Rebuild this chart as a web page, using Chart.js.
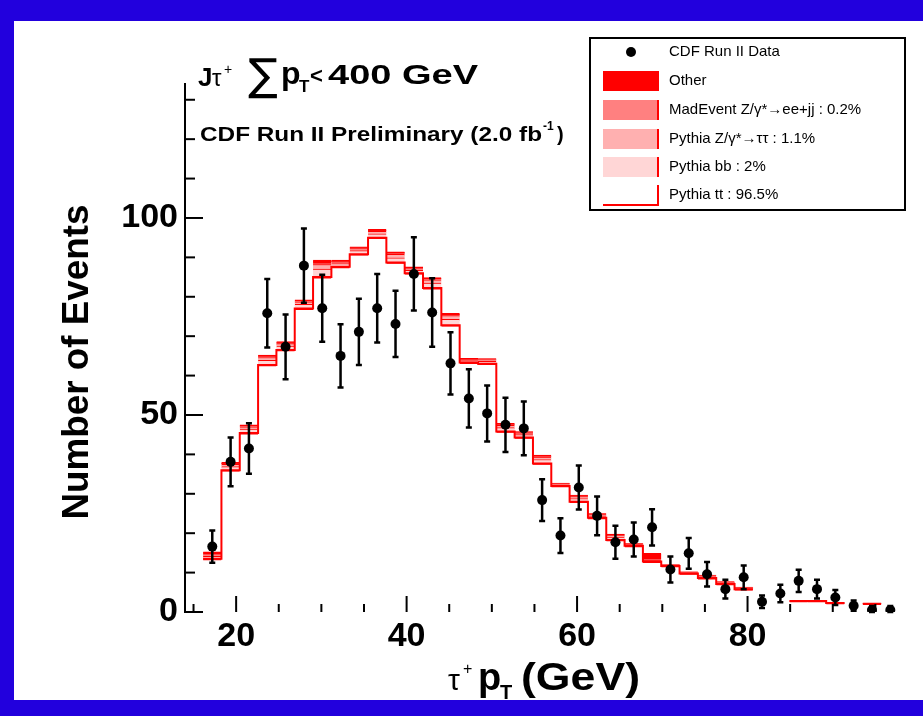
<!DOCTYPE html>
<html lang="en">
<head>
  <meta charset="UTF-8">
  <title>Tau pT - CDF Run II Preliminary</title>
  <script src="https://cdn.jsdelivr.net/npm/chart.js"></script>
  <style>
    html, body { margin: 0; padding: 0; background: #2200dd; overflow: hidden; }
    #panel { position: absolute; left: 14px; top: 21px; width: 909px; height: 679px; background: #fff; }
    #wrap { position: absolute; left: 0; top: 0; width: 923px; height: 716px; }
  </style>
</head>
<body>
  <div id="panel"></div>
  <div id="wrap"><canvas id="chart"></canvas></div>

  <script>
    // bin centres of the tau pT histogram (GeV)
    var binCenters = [17.2, 19.35, 21.5, 23.65, 25.8, 27.95, 30.1, 32.25, 34.4, 36.55,
                      38.7, 40.85, 43.0, 45.15, 47.3, 49.45, 51.6, 53.75, 55.9, 58.05,
                      60.2, 62.35, 64.5, 66.65, 68.8, 70.95, 73.1, 75.25, 77.4, 79.55,
                      81.7, 83.85, 86.0, 88.15, 90.3, 92.45, 94.6, 96.75];
    var binWidth = 2.15;

    // CDF data, events per bin and their errors
    var dataCounts = [16.6, 38.1, 41.5, 75.8, 67.3, 87.9, 77.1, 65.0, 71.1, 77.1,
                      73.1, 85.8, 76.0, 63.1, 54.2, 50.4, 47.5, 46.6, 28.4, 19.4,
                      31.6, 24.4, 17.7, 18.4, 21.5, 10.8, 14.9, 9.6, 5.8, 8.8,
                      2.6, 4.7, 7.9, 5.8, 3.7, 1.6, 0.5, 0.5];
    var dataErrors = [4.1, 6.2, 6.4, 8.7, 8.2, 9.4, 8.5, 8.0, 8.4, 8.7,
                      8.4, 9.3, 8.7, 7.9, 7.4, 7.1, 6.9, 6.8, 5.3, 4.4,
                      5.6, 4.9, 4.2, 4.3, 4.6, 3.3, 3.9, 3.1, 2.4, 3.0,
                      1.6, 2.2, 2.8, 2.4, 1.9, 1.3, 1.0, 1.0];

    // simulation, stacked from the bottom up
    var mcMain = [13.5, 36.0, 45.4, 62.7, 66.5, 77.0, 85.0, 87.6, 90.8, 95.0,
                  88.7, 86.0, 82.2, 72.8, 63.3, 63.0, 45.8, 44.3, 37.7, 32.0,
                  28.0, 23.9, 18.3, 16.8, 12.8, 11.7, 9.8, 8.6, 7.1, 5.8,
                  null, null, 2.8, 2.8, 2.3, null, 2.1, null];
    var mcBB = [0.6, 0.9, 1.0, 1.2, 1.0, 1.1, 2.0, 0.8, 0.9, 1.0,
                1.2, 0.7, 1.3, 1.5, 0.5, 0.6, 1.0, 0.7, 1.0, 0.3,
                0.8, 0.5, 0.7, 0.3, 0.3, 0.2, 0.2, 0.3, 0.3, 0.2,
                null, null, 0, 0, 0, null, 0, null];
    var mcZtt = [0.4, 0.6, 0.6, 0.7, 0.6, 0.6, 1.2, 0.4, 0.5, 0.6,
                 0.9, 0.4, 0.8, 0.9, 0.3, 0.4, 0.6, 0.4, 0.6, 0.2,
                 0.5, 0.3, 0.4, 0.2, 0.2, 0.1, 0.1, 0.2, 0.1, 0.1,
                 null, null, 0, 0, 0, null, 0, null];
    var mcMadEvent = [0.1, 0.1, 0.1, 0.2, 0.1, 0.1, 0.3, 0.1, 0.1, 0.1,
                      0.2, 0.1, 0.2, 0.2, 0.1, 0.1, 0.1, 0.1, 0.1, 0.0,
                      0.1, 0.1, 0.1, 0.0, 0.1, 0.0, 0.0, 0.1, 0.0, 0.0,
                      null, null, 0, 0, 0, null, 0, null];
    var mcOther = [0.7, 0.4, 0.4, 0.4, 0.4, 0.4, 0.8, 0.4, 0.4, 0.4,
                   0.4, 0.4, 0.4, 0.4, 0.2, 0.2, 0.4, 0.3, 0.4, 0.2,
                   0.3, 0.2, 0.3, 0.1, 1.5, 0.1, 0.1, 0.2, 0.2, 0.2,
                   null, null, 0.1, 0.1, 0.1, null, 0.1, null];

    var xTickLabels = [20, 40, 60, 80];
    var yTickLabels = [0, 50, 100];
    var legendNames = ['CDF Run II Data', 'Other', 'MadEvent Z/\u03b3*\u2192ee+jj : 0.2%',
                       'Pythia Z/\u03b3*\u2192\u03c4\u03c4 : 1.1%', 'Pythia bb : 2%', 'Pythia tt : 96.5%'];

    var FONT = '"Liberation Sans", Arial, sans-serif';

    function pts(values) {
      return binCenters.map(function(c, i) { return { x: c, y: values[i] }; });
    }

    // outline of the main sample as a step line
    var stepPoints = [];
    binCenters.forEach(function(c, i) {
      if (mcMain[i] === null) { stepPoints.push({ x: c, y: null }); return; }
      stepPoints.push({ x: c - binWidth / 2, y: mcMain[i] });
      stepPoints.push({ x: c + binWidth / 2, y: mcMain[i] });
    });

    function band(label, values, fill) {
      return {
        type: 'bar', label: label, data: pts(values), stack: 'mc', order: 3,
        backgroundColor: fill, borderColor: '#ff0000',
        borderWidth: { top: 1 }, borderSkipped: false,
        barPercentage: 1, categoryPercentage: 1
      };
    }

    function put(ctx, txt, x, y, size, bold, fitW, family) {
      ctx.save();
      ctx.font = (bold ? 'bold ' : '') + size + 'px ' + (family || FONT);
      ctx.textBaseline = 'alphabetic';
      ctx.textAlign = 'left';
      var sx = fitW ? fitW / ctx.measureText(txt).width : 1;
      ctx.translate(x, y);
      ctx.scale(sx, 1);
      ctx.fillStyle = '#000';
      ctx.fillText(txt, 0, 0);
      ctx.restore();
    }

    // error bars of the data points
    var errorBars = {
      id: 'errorBars',
      afterDatasetsDraw: function(chart) {
        var xs = chart.scales.x, ys = chart.scales.y, ctx = chart.ctx;
        ctx.save();
        ctx.strokeStyle = '#000';
        ctx.lineWidth = 2.5;
        dataCounts.forEach(function(v, i) {
          var px = xs.getPixelForValue(binCenters[i]);
          var top = ys.getPixelForValue(v + dataErrors[i]);
          var bot = ys.getPixelForValue(Math.max(0, v - dataErrors[i]));
          ctx.beginPath();
          ctx.moveTo(px, top); ctx.lineTo(px, bot);
          ctx.moveTo(px - 3, top); ctx.lineTo(px + 3, top);
          ctx.moveTo(px - 3, bot); ctx.lineTo(px + 3, bot);
          ctx.stroke();
        });
        ctx.restore();
      }
    };

    // inward ticks, titles, text and legend box
    var decorations = {
      id: 'decorations',
      afterDraw: function(chart) {
        var ctx = chart.ctx, xs = chart.scales.x, ys = chart.scales.y;
        var area = chart.chartArea;
        ctx.save();
        ctx.strokeStyle = '#000';
        ctx.lineWidth = 2;
        ys.ticks.forEach(function(t) {
          if (t.value % 10 !== 0) return;
          var len = t.value % 50 === 0 ? 18 : 10;
          var py = ys.getPixelForValue(t.value);
          ctx.beginPath(); ctx.moveTo(area.left, py); ctx.lineTo(area.left + len, py); ctx.stroke();
        });
        xs.ticks.forEach(function(t) {
          if (t.value % 5 !== 0 || t.value >= xs.max) return;
          var len = t.value % 20 === 0 ? 16 : 8;
          var px = xs.getPixelForValue(t.value);
          ctx.beginPath(); ctx.moveTo(px, area.bottom); ctx.lineTo(px, area.bottom - len); ctx.stroke();
        });
        ctx.restore();

        // y title
        ctx.save();
        ctx.translate(78, 362);
        ctx.rotate(-Math.PI / 2);
        ctx.font = 'bold 36px ' + FONT;
        var w = ctx.measureText('Number of Events').width;
        ctx.scale(315 / w, 1);
        ctx.textAlign = 'center';
        ctx.textBaseline = 'middle';
        ctx.fillStyle = '#000';
        ctx.fillText('Number of Events', 0, 0);
        ctx.restore();

        // x title
        put(ctx, '\u03c4', 448, 690, 30, false);
        put(ctx, '+', 463, 674, 16, false);
        put(ctx, 'p', 478, 690, 38, true);
        put(ctx, 'T', 500, 699, 20, true);
        put(ctx, '(GeV)', 521, 690, 38, true, 119);

        // cut label
        put(ctx, 'J', 198, 86, 26, true);
        put(ctx, '\u03c4', 212, 86, 24, false);
        put(ctx, '+', 224, 74, 14, false);
        put(ctx, '\u2211', 248, 90, 44, false, null, '"DejaVu Sans", sans-serif');
        put(ctx, 'p', 281, 84, 32, true);
        put(ctx, 'T', 299, 92, 17, true);
        put(ctx, '<', 310, 83, 22, true);
        put(ctx, '400 GeV', 328, 84, 28, true, 150);

        put(ctx, 'CDF Run II Preliminary (2.0 fb', 200, 141, 20, true, 342);
        put(ctx, '-1', 543, 130, 12, true);
        put(ctx, ')', 557, 141, 20, true);

        // legend
        var lx = 590, ly = 38, lw = 315, lh = 172;
        ctx.save();
        ctx.fillStyle = '#fff';
        ctx.fillRect(lx, ly, lw, lh);
        ctx.strokeStyle = '#000';
        ctx.lineWidth = 2;
        ctx.strokeRect(lx, ly, lw, lh);
        var rows = [52, 81, 110, 139, 167, 195];
        var fills = [null, '#ff0000', '#ff8080', '#ffb0b0', '#ffd6d6', '#ffffff'];
        rows.forEach(function(ry, i) {
          if (i === 0) {
            ctx.fillStyle = '#000';
            ctx.beginPath(); ctx.arc(631, ry, 5, 0, Math.PI * 2); ctx.fill();
          } else {
            ctx.fillStyle = fills[i];
            ctx.fillRect(603, ry - 10, 55, 20);
            ctx.strokeStyle = '#ff0000';
            ctx.lineWidth = 2;
            ctx.beginPath();
            if (i === 5) { ctx.moveTo(603, ry + 10); ctx.lineTo(658, ry + 10); }
            else { ctx.moveTo(658, ry + 10); }
            ctx.lineTo(658, ry - 10);
            ctx.stroke();
          }
          ctx.fillStyle = '#000';
          ctx.font = '15px ' + FONT;
          ctx.textBaseline = 'middle';
          ctx.fillText(legendNames[i], 669, ry);
        });
        ctx.restore();
      }
    };

    new Chart(document.getElementById('chart'), {
      type: 'bar',
      data: {
        datasets: [
          {
            type: 'scatter', label: legendNames[0], data: pts(dataCounts), order: 0,
            backgroundColor: '#000', borderColor: '#000', pointRadius: 5, pointBorderWidth: 0
          },
          {
            type: 'line', label: legendNames[5], data: stepPoints, order: 1,
            borderColor: '#ff0000', borderWidth: 2, pointRadius: 0, spanGaps: false, fill: false
          },
          band(legendNames[5], mcMain, 'rgba(0,0,0,0)'),
          band(legendNames[4], mcBB, '#ffd6d6'),
          band(legendNames[3], mcZtt, '#ffb0b0'),
          band(legendNames[2], mcMadEvent, '#ff8080'),
          band(legendNames[1], mcOther, '#ff0000')
        ]
      },
      options: {
        responsive: true,
        maintainAspectRatio: false,
        animation: false,
        events: [],
        layout: { padding: { top: 84, left: 0, right: 0, bottom: 0 } },
        plugins: { legend: { display: false }, tooltip: { enabled: false } },
        scales: {
          x: {
            type: 'linear', min: 14, max: 100, offset: false,
            grid: { display: false, drawTicks: false },
            border: { display: false },
            ticks: {
              stepSize: 5, includeBounds: false, autoSkip: false, maxRotation: 0, padding: 4,
              color: '#000', font: { family: FONT, size: 34, weight: 'bold' },
              callback: function(v) { return xTickLabels.indexOf(v) >= 0 ? String(v) : ''; }
            },
            afterFit: function(s) { s.height = 104; }
          },
          y: {
            type: 'linear', min: 0, max: 134,
            grid: { display: false, drawTicks: false },
            border: { display: true, color: '#000', width: 2 },
            ticks: {
              stepSize: 10, includeBounds: false, autoSkip: false, padding: 7,
              color: '#000', font: { family: FONT, size: 34, weight: 'bold' },
              callback: function(v) { return yTickLabels.indexOf(v) >= 0 ? String(v) : ''; }
            },
            afterFit: function(s) { s.width = 185; }
          }
        }
      },
      plugins: [errorBars, decorations]
    });
  </script>
</body>
</html>
